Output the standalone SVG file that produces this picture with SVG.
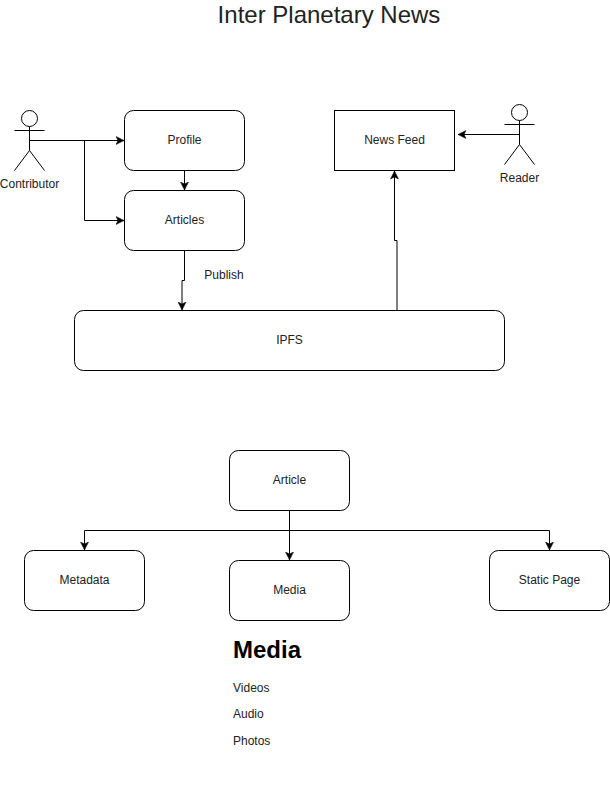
<svg xmlns="http://www.w3.org/2000/svg" width="610" height="791" viewBox="0 0 610 791">
<defs>
<marker id="arrow" viewBox="0 0 9 9" refX="8.500" refY="4.500" markerWidth="9" markerHeight="9" markerUnits="userSpaceOnUse" orient="auto"><path d="M0.500 0.500L8.500 4.500L0.500 8.500L2.500 4.500Z" fill="#000" stroke="#000" stroke-width="0.500"/></marker>
</defs>
<style>
.n{fill:#fff;stroke:#000;stroke-width:1}
.c{fill:none;stroke:#000;stroke-width:1;marker-end:url(#arrow)}
.a{fill:none;stroke:#000;stroke-width:1}
text{font-family:"Liberation Sans",Arial,sans-serif;font-size:12px;fill:#222}
.m{text-anchor:middle}
</style>
<rect width="610" height="791" fill="#fff"/>
<g id="connectors">
<path class="c" d="M29.500 140.500H124"/>
<path class="c" d="M84.500 140.500V220.500H124"/>
<path class="c" d="M184.500 170.500V190"/>
<path class="c" d="M184.500 250.500V280.500H182V310"/>
<path class="c" d="M397 310.500V240.500H394.500V171"/>
<path class="c" d="M519.500 134.500H458"/>
<path class="c" d="M289.500 510.500V560"/>
<path class="c" d="M289.500 530.500H84.500V550"/>
<path class="c" d="M289.500 530.500H549.500V550"/>
</g>
<text id="title" x="329" y="23" class="m" style="font-size:24px">Inter Planetary News</text>
<g id="contributor"><circle class="a" cx="29.500" cy="118.500" r="8"/><path class="a" d="M29.500 126.500V150.500M14.500 130.500H44.500M29.500 150.500L14.500 170.500M29.500 150.500L44.500 170.500"/><text x="29.500" y="188" class="m">Contributor</text></g>
<g id="reader"><circle class="a" cx="519.500" cy="112.500" r="8"/><path class="a" d="M519.500 120.500V144.500M504.500 124.500H534.500M519.500 144.500L504.500 164.500M519.500 144.500L534.500 164.500"/><text x="519.500" y="182" class="m">Reader</text></g>
<g id="profile"><rect class="n" x="124.500" y="110.500" width="120" height="60" rx="9"/><text x="184.500" y="144" class="m">Profile</text></g>
<g id="articles"><rect class="n" x="124.500" y="190.500" width="120" height="60" rx="9"/><text x="184.500" y="224" class="m">Articles</text></g>
<g id="newsfeed"><rect class="n" x="334.500" y="110.500" width="120" height="60"/><text x="394.500" y="144" class="m">News Feed</text></g>
<g id="ipfs"><rect class="n" x="74.500" y="310.500" width="430" height="60" rx="9"/><text x="289.500" y="344" class="m">IPFS</text></g>
<text id="publish" x="224" y="279" class="m">Publish</text>
<g id="article"><rect class="n" x="229.500" y="450.500" width="120" height="60" rx="9"/><text x="289.500" y="484" class="m">Article</text></g>
<g id="metadata"><rect class="n" x="24.500" y="550.500" width="120" height="60" rx="9"/><text x="84.500" y="584" class="m">Metadata</text></g>
<g id="media"><rect class="n" x="229.500" y="560.500" width="120" height="60" rx="9"/><text x="289.500" y="594" class="m">Media</text></g>
<g id="staticpage"><rect class="n" x="489.500" y="550.500" width="120" height="60" rx="9"/><text x="549.500" y="584" class="m">Static Page</text></g>
<g id="mediatext"><text x="233" y="658" style="font-size:24px;font-weight:bold;fill:#000">Media</text><text x="233" y="692">Videos</text><text x="233" y="718">Audio</text><text x="233" y="745">Photos</text></g>
</svg>
